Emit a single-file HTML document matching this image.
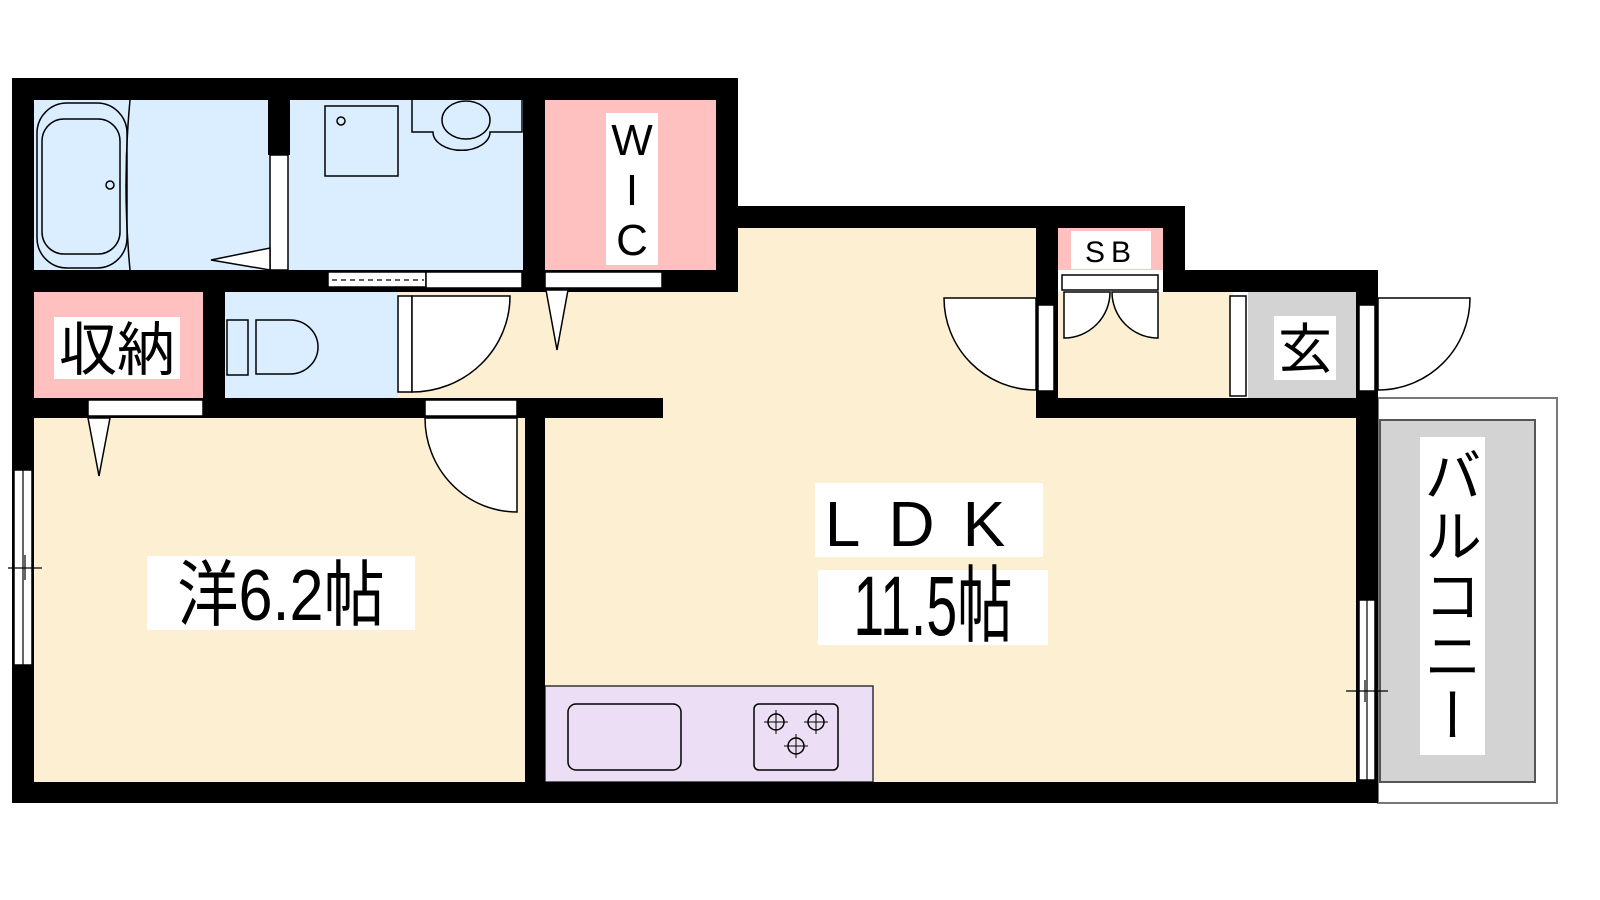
<!DOCTYPE html>
<html><head><meta charset="utf-8"><style>
html,body{margin:0;padding:0;background:#fff;width:1600px;height:900px;overflow:hidden;position:relative}
svg{display:block}
text{font-family:"Liberation Sans","Noto Sans CJK JP",sans-serif;fill:#000}
#bal{position:absolute;left:1420px;top:437px;width:65px;height:318px;background:#fff;writing-mode:vertical-rl;white-space:nowrap;overflow:hidden;font-family:"Noto Sans CJK JP",sans-serif;font-size:58px;line-height:65px;text-align:center;letter-spacing:2px;padding:0}
</style></head><body>
<svg width="1600" height="900" viewBox="0 0 1600 900" xmlns="http://www.w3.org/2000/svg">
<rect x="1378" y="398" width="179" height="405" fill="#fff" stroke="#777" stroke-width="2"/>
<rect x="1380" y="420" width="155" height="362" fill="#d3d3d3" stroke="#555" stroke-width="2"/>
<rect x="34" y="100" width="490" height="172" fill="#dbeeff"/>
<rect x="545" y="100" width="172" height="172" fill="#ffc0c0"/>
<rect x="34" y="292" width="170" height="106" fill="#ffc0c0"/>
<rect x="225" y="292" width="173" height="106" fill="#dbeeff"/>
<rect x="398" y="292" width="640" height="108" fill="#fdf0d2"/>
<rect x="738" y="228" width="300" height="80" fill="#fdf0d2"/>
<rect x="34" y="418" width="492" height="364" fill="#fdf0d2"/>
<rect x="545" y="400" width="813" height="382" fill="#fdf0d2"/>
<rect x="1058" y="228" width="105" height="42" fill="#ffc0c0"/>
<rect x="1058" y="292" width="175" height="106" fill="#fdf0d2"/>
<rect x="1248" y="292" width="108" height="106" fill="#d3d3d3"/>
<rect x="545" y="686" width="328" height="96" fill="#ecdff5" stroke="#333" stroke-width="1.5"/>
<g fill="#000">
<rect x="12" y="78" width="726" height="22"/>
<rect x="12" y="78" width="22" height="725"/>
<rect x="716" y="78" width="22" height="214"/>
<rect x="523" y="78" width="22" height="214"/>
<rect x="268" y="100" width="22" height="55"/>
<rect x="12" y="270" width="726" height="22"/>
<rect x="203" y="292" width="22" height="126"/>
<rect x="12" y="398" width="651" height="20"/>
<rect x="525" y="398" width="20" height="405"/>
<rect x="12" y="782" width="1366" height="21"/>
<rect x="738" y="206" width="447" height="22"/>
<rect x="1036" y="206" width="22" height="212"/>
<rect x="1163" y="206" width="22" height="86"/>
<rect x="1163" y="270" width="215" height="22"/>
<rect x="1036" y="398" width="342" height="20"/>
<rect x="1356" y="270" width="22" height="533"/>
</g>
<g fill="#fff" stroke="#000" stroke-width="1.5">
<rect x="270" y="155" width="18" height="115"/>
<rect x="328" y="272" width="98" height="15"/>
<rect x="426" y="272" width="96" height="16"/>
<rect x="545" y="272" width="117" height="16"/>
<rect x="88" y="400" width="115" height="16"/>
<rect x="425" y="400" width="92" height="16"/>
<rect x="398" y="296" width="14" height="96"/>
<rect x="1038" y="305" width="16" height="86"/>
<rect x="1062" y="275" width="96" height="15"/>
<rect x="1230" y="296" width="16" height="100"/>
<rect x="1359" y="305" width="16" height="86"/>
<rect x="14" y="470" width="18" height="195"/>
<rect x="1359" y="600" width="16" height="180"/>
</g>
<g stroke="#000" stroke-width="1.2" fill="none">
<line x1="332" y1="280" x2="424" y2="280" stroke-dasharray="5,4"/>
<line x1="23" y1="470" x2="23" y2="665"/><line x1="8" y1="568" x2="42" y2="568"/><line x1="25" y1="555" x2="25" y2="580"/>
<line x1="1367" y1="600" x2="1367" y2="780"/><line x1="1346" y1="691" x2="1388" y2="691"/><line x1="1365" y1="680" x2="1365" y2="702"/>
</g>
<g fill="#fff" stroke="#000" stroke-width="1.5">
<path d="M412 296 H510 A98 96 0 0 1 412 392 Z"/>
<path d="M517 418 V512 A92 94 0 0 1 425 418 Z"/>
<path d="M1036 298 H944 A92 92 0 0 0 1036 390 Z"/>
<path d="M1378 298 H1470 A92 92 0 0 1 1378 390 Z"/>
<path d="M1064 292 V338 A46 46 0 0 0 1110 292 Z"/>
<path d="M1158 292 V338 A46 46 0 0 1 1112 292 Z"/>
<polygon points="211,260 270,248 270,270"/>
<polygon points="546,290 568,290 557,350"/>
<polygon points="88,418 110,418 99,476"/>
</g>
<g fill="none" stroke="#000" stroke-width="1.5">
<rect x="37" y="103" width="90" height="165" rx="30"/>
<rect x="42" y="119" width="78" height="135" rx="22"/>
<circle cx="110" cy="185" r="4"/>
<path d="M130 100 Q122 185 130 270"/>
<rect x="325" y="106" width="73" height="70"/>
<circle cx="341" cy="121" r="4"/>
<path d="M412 100 V132 H433 A28 18 0 0 0 490 132 H522 V100"/>
<ellipse cx="466" cy="120" rx="24" ry="19"/>
<path d="M227 320 H248 V375 H227 Z"/><path d="M256 320 H290 A28 27 0 0 1 290 374 H256 Z"/>
<rect x="568" y="704" width="113" height="66" rx="8"/>
<rect x="754" y="704" width="84" height="66" rx="5"/>
<circle cx="776" cy="722" r="8"/><circle cx="816" cy="722" r="8"/><circle cx="796" cy="746" r="8"/>
<path d="M764 722h24M776 710v24M804 722h24M816 710v24M784 746h24M796 734v24" stroke-width="1"/>
</g>
<rect x="606" y="113" width="52" height="152" fill="#fff"/>
<text x="632" y="155" font-size="44" text-anchor="middle">W</text>
<text x="632" y="205" font-size="44" text-anchor="middle">I</text>
<text x="632" y="255" font-size="44" text-anchor="middle">C</text>
<rect x="1071" y="231" width="80" height="38" fill="#fff"/>
<text x="1111" y="262" font-size="30" text-anchor="middle" letter-spacing="6">SB</text>
<rect x="54" y="317" width="126" height="62" fill="#fff"/>
<text x="117" y="370" font-size="58" text-anchor="middle">収納</text>
<rect x="1274" y="316" width="62" height="64" fill="#fff"/>
<text x="1305" y="368" font-size="54" text-anchor="middle">玄</text>
<rect x="147" y="556" width="268" height="74" fill="#fff"/>
<text x="281" y="620" font-size="72" text-anchor="middle" transform="translate(281 0) scale(0.85 1) translate(-281 0)">洋6.2帖</text>
<rect x="815" y="483" width="228" height="74" fill="#fff"/>
<text x="929" y="546" font-size="64" text-anchor="middle" letter-spacing="28">LDK</text>
<rect x="818" y="570" width="230" height="75" fill="#fff"/>
<text x="933" y="635" font-size="84" text-anchor="middle" transform="translate(933 0) scale(0.66 1) translate(-933 0)">11.5帖</text>
</svg>
<div id="bal">バルコニー</div>
</body></html>
